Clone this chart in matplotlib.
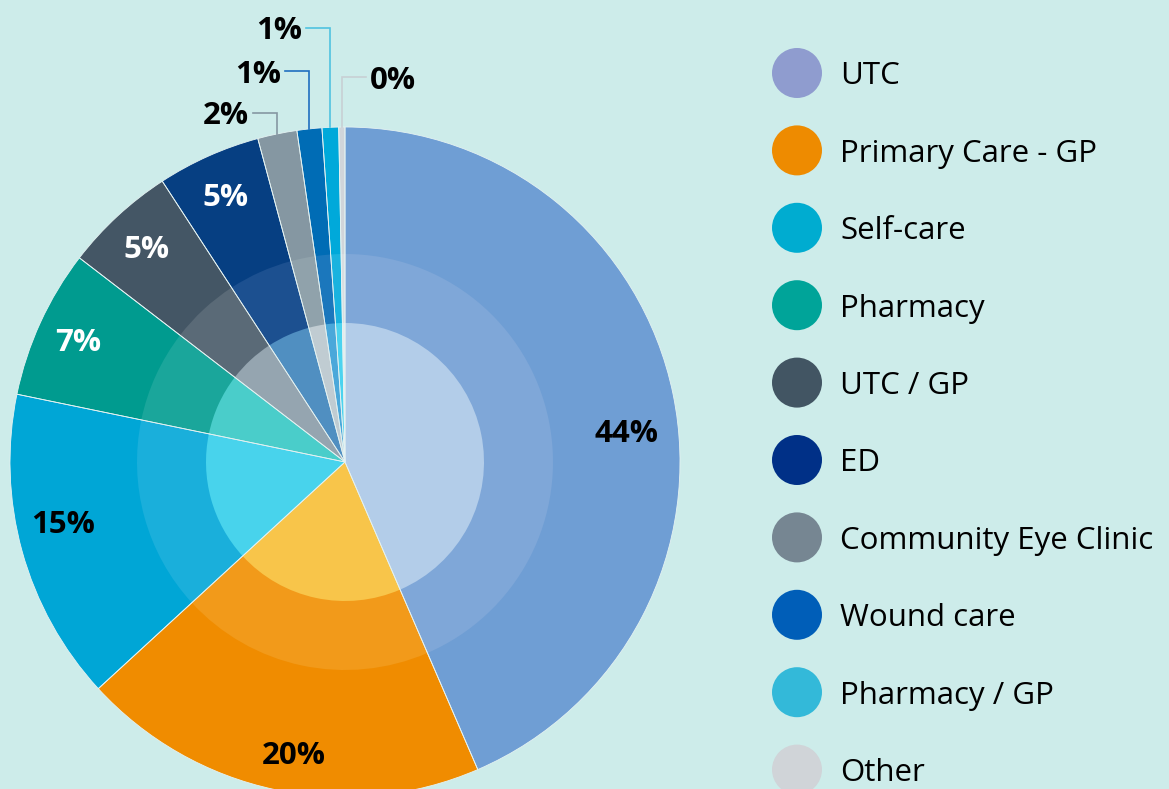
import numpy as np
import matplotlib
matplotlib.use("Agg")
import matplotlib.pyplot as plt
from matplotlib.patches import Circle

categories = ["UTC", "Primary Care - GP", "Self-care", "Pharmacy", "UTC / GP", "ED",
              "Community Eye Clinic", "Wound care", "Pharmacy / GP", "Other"]
values = [43.6, 19.7, 15.1, 7.2, 5.4, 5.0, 1.9, 1.2, 0.8, 0.3]

outer_colors = ["#6f9ed4", "#f08c00", "#00a6d6", "#009b8f", "#445665", "#063f82",
                "#8597a2", "#006cb5", "#00a9da", "#d0d5da"]
middle_colors = ["#7fa7d8", "#f29a1a", "#1aafdb", "#1aa69b", "#5a6a77", "#1c5090",
                 "#90a2ab", "#1b77bc", "#1ab3df", "#d8dde1"]
inner_colors = ["#b3cde9", "#f8c54a", "#48d3ec", "#4acdca", "#95a5b0", "#508fc1",
                "#c0ccd2", "#4aa8da", "#4bd3ef", "#e6eaec"]
legend_colors = ["#8f9ccf", "#ee8b00", "#00acd0", "#00a499", "#425563", "#003087",
                 "#768692", "#005eb8", "#33b9d9", "#d0d4d8"]
label_text_colors = ["black", "black", "black", "white", "white", "white",
                     "black", "black", "black", "black"]
line_colors = [None, None, None, None, None, None, "#8597a2", "#1f6fbf", "#4fc3e0", "#c8d0d4"]

BG = "#cdecea"
W, H = 1169, 789
cx, cy, R = 345, 462, 335  # pixel center and radius

fig = plt.figure(figsize=(W / 100, H / 100), dpi=100, facecolor=BG)
ax = fig.add_axes([0, 0, 1, 1])
ax.set_facecolor(BG)

common = dict(startangle=90, counterclock=False)
ax.pie(values, radius=1.0, colors=outer_colors,
       wedgeprops=dict(edgecolor="none", linewidth=0), **common)
ax.pie(values, radius=208 / R, colors=middle_colors,
       wedgeprops=dict(edgecolor="none", linewidth=0), **common)
ax.pie(values, radius=139 / R, colors=inner_colors,
       wedgeprops=dict(edgecolor="none", linewidth=0), **common)
# thin light separators between slices through all rings
ax.pie(values, radius=1.0,
       wedgeprops=dict(fill=False, edgecolor="#e4f2f2", linewidth=0.6), **common)

ax.set_xlim(-cx / R, (W - cx) / R)
ax.set_ylim(-(H - cy) / R, cy / R)
ax.set_aspect("equal")
ax.axis("off")

font = "Open Sans"
total = sum(values)
cum = np.cumsum([0] + values)
mids = 90 - 360 * (cum[:-1] + cum[1:]) / 2 / total

# label placement tweaks: (angle offset in degrees, radius)
label_place = {0: (-5.2, 0.845), 1: (2.0, 0.88), 2: (-3.5, 0.86)}
# connector label heights (data units above center) for the small slices
small_label_y = {6: 1.042, 7: 1.167, 8: 1.296, 9: 1.149}
small_side = {6: -1, 7: -1, 8: -1, 9: 1}

for i, v in enumerate(values):
    txt = f"{round(v / total * 100):.0f}%"
    if i in small_label_y:
        th = np.deg2rad(mids[i])
        x0, y0 = np.cos(th), np.sin(th)
        yl = small_label_y[i]
        s = small_side[i]
        seg = 0.072
        ax.plot([x0, x0, x0 + s * seg], [y0, yl, yl], color=line_colors[i], lw=1.2,
                clip_on=False, solid_joinstyle="miter")
        ax.text(x0 + s * (seg + 0.012), yl, txt, ha="left" if s > 0 else "right",
                va="center_baseline", fontsize=22.5, fontweight="bold", family=font,
                color="black")
    else:
        dth, r = label_place.get(i, (0.0, 0.875))
        th = np.deg2rad(mids[i] + dth)
        ax.text(r * np.cos(th), r * np.sin(th), txt, ha="center", va="center_baseline",
                fontsize=22.5, fontweight="bold", family=font,
                color=label_text_colors[i])

# legend
lx = (797 - cx) / R
ly0 = (cy - 73) / R
step = 77.4 / R
for i, name in enumerate(categories):
    y = ly0 - i * step
    ax.add_patch(Circle((lx, y), 25 / R, facecolor=legend_colors[i], edgecolor="none",
                        clip_on=False))
    ax.text((840 - cx) / R, y, name, ha="left", va="center_baseline", fontsize=22.5,
            family=font, color="black")

fig.savefig("out.png", dpi=100, facecolor=BG)
